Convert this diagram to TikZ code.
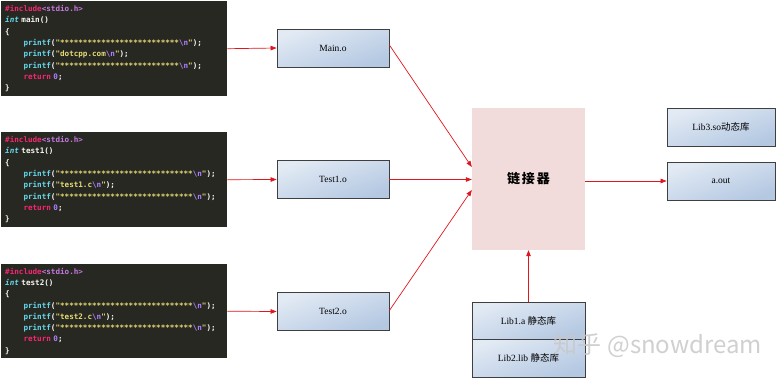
\documentclass[tikz,border=0pt]{standalone}
\usepackage{fontspec}
\setmainfont{Liberation Serif}
\setmonofont{DejaVu Sans Mono}
\newfontfamily\cjk{Noto Sans CJK SC}
\usetikzlibrary{arrows.meta}
\definecolor{codebg}{HTML}{272822}
\definecolor{mkred}{HTML}{F92672}
\definecolor{mkpur}{HTML}{AE81FF}
\definecolor{mkinc}{HTML}{C678DD}
\definecolor{mkblue}{HTML}{66D9EF}
\definecolor{mkyel}{HTML}{E6DB74}
\definecolor{mkwhite}{HTML}{F8F8F2}
\definecolor{boxtop}{HTML}{E2EAF4}
\definecolor{boxbot}{HTML}{B4C8E2}
\definecolor{boxline}{HTML}{3F3F3F}
\definecolor{linkfill}{HTML}{F2DCDB}
\definecolor{arrred}{HTML}{E0161E}
\definecolor{wmark}{HTML}{C8C8C8}
\newcommand\cInc{\textcolor{mkred}{\#include}\textcolor{mkinc}{<stdio.h>}}
\newcommand\cFun[1]{\textcolor{mkblue}{\itshape int} \textcolor{mkwhite}{#1()}}
\newcommand\cInd{\phantom{0000}}
\newcommand\cPr[1]{\cInd\textcolor{mkblue}{printf}\textcolor{mkwhite}{(}\textcolor{mkyel}{"#1}\textcolor{mkpur}{\textbackslash n}\textcolor{mkyel}{"}\textcolor{mkwhite}{);}}
\newcommand\cRet{\cInd\textcolor{mkred}{return} \textcolor{mkpur}{0}\textcolor{mkwhite}{;}}
\newcommand\cOpen{\textcolor{mkwhite}{\{}}
\newcommand\cClose{\textcolor{mkwhite}{\}}}
\begin{document}
\begin{tikzpicture}[x=1pt,y=-1pt,
  codeblk/.style={anchor=north west, fill=codebg, draw=none, inner xsep=4pt, inner ysep=2pt,
    minimum width=226pt, text width=218pt, align=left,
    font=\ttfamily\bfseries\fontsize{7.6}{11.3}\selectfont},
  objbox/.style={draw=boxline, line width=0.8pt, top color=boxtop, bottom color=boxbot,
    shading angle=20, minimum width=112pt, minimum height=38pt, inner sep=0pt,
    font=\fontsize{9.5}{10}\selectfont},
  arr/.style={draw=arrred, line width=0.7pt, -{Triangle[length=6pt,width=4.5pt]}}
]
\useasboundingbox (0,0) rectangle (782,378);
\fill[white] (0,0) rectangle (782,378);

% code blocks
\node[codeblk, minimum height=95pt] (code1) at (1,1) {%
\cInc\\
\cFun{main}\\
\cOpen\\
\cPr{**************************}\\
\cPr{dotcpp.com}\\
\cPr{**************************}\\
\cRet\\
\cClose};
\node[codeblk, minimum height=95pt] (code2) at (1,132) {%
\cInc\\
\cFun{test1}\\
\cOpen\\
\cPr{*****************************}\\
\cPr{test1.c}\\
\cPr{*****************************}\\
\cRet\\
\cClose};
\node[codeblk, minimum height=94pt] (code3) at (1,264) {%
\cInc\\
\cFun{test2}\\
\cOpen\\
\cPr{*****************************}\\
\cPr{test2.c}\\
\cPr{*****************************}\\
\cRet\\
\cClose};

% object files
\node[objbox] (main) at (333,48) {Main.o};
\node[objbox] (test1) at (333,179.5) {Test1.o};
\node[objbox] (test2) at (333,311.5) {Test2.o};

% linker
\node[fill=linkfill, minimum width=113pt, minimum height=142pt, inner sep=0pt,
  font=\cjk\bfseries\fontsize{13}{14}\selectfont] (linker) at (528.5,179) {链\hspace{2pt}接\hspace{2pt}器};

% outputs
\node[objbox, minimum width=108pt] (lib3) at (721,127) {Lib3.so{\cjk 动态库}};
\node[objbox, minimum width=108pt] (aout) at (721,181) {a.out};

% static libs
\node[objbox, minimum width=113pt, minimum height=37pt] (lib1) at (528.5,320.5) {Lib1.a {\cjk 静态库}};
\node[objbox, minimum width=113pt, minimum height=38pt] (lib2) at (528.5,358) {Lib2.lib {\cjk 静态库}};

% connectors
\draw[arr] (code1.east) -- (main.west);
\draw[arr] (code2.east) -- (test1.west);
\draw[arr] (code3.east) -- (test2.west);
\draw[arr] ([yshift=3pt]main.east) -- ([yshift=12pt]linker.west);
\draw[arr] (test1.east) -- (linker.west |- test1.east);
\draw[arr] ([yshift=1pt]test2.east) -- ([yshift=-11pt]linker.west);
\draw[arr] (linker.east |- aout.west) -- (aout.west);
\draw[arr] (lib1.north) -- (linker.south);

% watermark
\node[text=wmark, opacity=0.85, font=\cjk\fontsize{24}{26}\selectfont, anchor=center] (wm) at (658,345) {知乎 @snowdream};
\end{tikzpicture}
\end{document}
